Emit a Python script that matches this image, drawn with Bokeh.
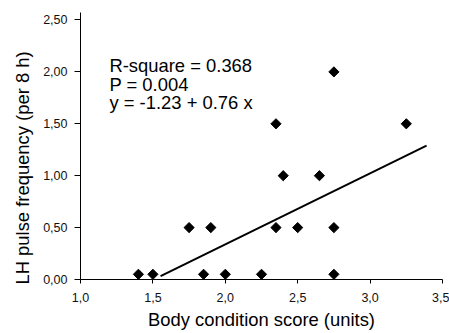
from bokeh.plotting import figure
from bokeh.models import FixedTicker, Range1d, Label, ColumnDataSource, Title
from bokeh.embed import file_html
from bokeh.resources import INLINE

# data
bcs = [1.4, 1.5, 1.75, 1.85, 1.9, 2.0, 2.25, 2.35, 2.35, 2.4, 2.5, 2.65, 2.75, 2.75, 2.75, 3.25]
lh_freq = [0.05, 0.05, 0.5, 0.05, 0.5, 0.05, 0.05, 1.5, 0.5, 1.0, 0.5, 1.0, 2.0, 0.5, 0.05, 1.5]
fit_x = [1.553, 3.39]
fit_y = [0.032, 1.29]

x_ticks = [1.0, 1.5, 2.0, 2.5, 3.0, 3.5]
x_tick_labels = ["1,0", "1,5", "2,0", "2,5", "3,0", "3,5"]
y_ticks = [0.0, 0.5, 1.0, 1.5, 2.0, 2.5]
y_tick_labels = ["0,00", "0,50", "1,00", "1,50", "2,00", "2,50"]

stats_lines = ["R-square = 0.368", "P = 0.004", "y = -1.23 + 0.76 x"]
x_title = "Body condition score (units)"
y_title = "LH pulse frequency (per 8 h)"

FONT = "Liberation Sans"
BIG = "18.4px"

p = figure(frame_width=362, frame_height=267, output_backend="svg", toolbar_location=None,
           x_range=Range1d(1.0, 3.5), y_range=Range1d(0.0, 2.572),
           min_border_left=80, min_border_right=7, min_border_top=12, min_border_bottom=54)
p.outline_line_color = None
p.xgrid.visible = False
p.ygrid.visible = False
p.background_fill_color = "white"
p.border_fill_color = "white"

for ax in (p.xaxis[0], p.yaxis[0]):
    ax.axis_line_color = "black"
    ax.major_tick_line_color = "black"
    ax.minor_tick_line_color = None
    ax.major_tick_in = 0
    ax.major_label_text_font = FONT
    ax.major_label_text_font_size = "12.5px"
    ax.major_label_text_color = "#111111"

p.xaxis[0].ticker = FixedTicker(ticks=x_ticks)
p.xaxis[0].major_label_overrides = dict(zip(x_ticks, x_tick_labels))
p.xaxis[0].major_tick_out = 4
p.xaxis[0].major_label_standoff = 9
p.xaxis[0].axis_label = x_title
p.xaxis[0].axis_label_text_font = FONT
p.xaxis[0].axis_label_text_font_size = BIG
p.xaxis[0].axis_label_text_font_style = "normal"
p.xaxis[0].axis_label_text_color = "black"
p.xaxis[0].axis_label_standoff = 4

p.yaxis[0].ticker = FixedTicker(ticks=y_ticks)
p.yaxis[0].major_label_overrides = dict(zip(y_ticks, y_tick_labels))
p.yaxis[0].major_tick_out = 6
p.yaxis[0].major_label_standoff = 7

p.add_layout(Title(text=y_title, align="left", offset=-5, standoff=16, text_font=FONT,
                   text_font_size=BIG, text_font_style="normal", text_color="black"), "left")

src = ColumnDataSource(dict(x=bcs, y=lh_freq))
p.scatter("x", "y", source=src, marker="square", size=7.2, angle=45, angle_units="deg",
          fill_color="black", line_color="black")

p.line(fit_x, fit_y, line_color="black", line_width=2)

stats_y = [2.066, 1.879, 1.705]
for t, yy in zip(stats_lines, stats_y):
    p.add_layout(Label(x=1.2, y=yy, text=t, text_font=FONT, text_font_size=BIG,
                       text_color="black", text_baseline="alphabetic", text_align="left"))

open("out.html", "w").write(file_html(p, INLINE))
